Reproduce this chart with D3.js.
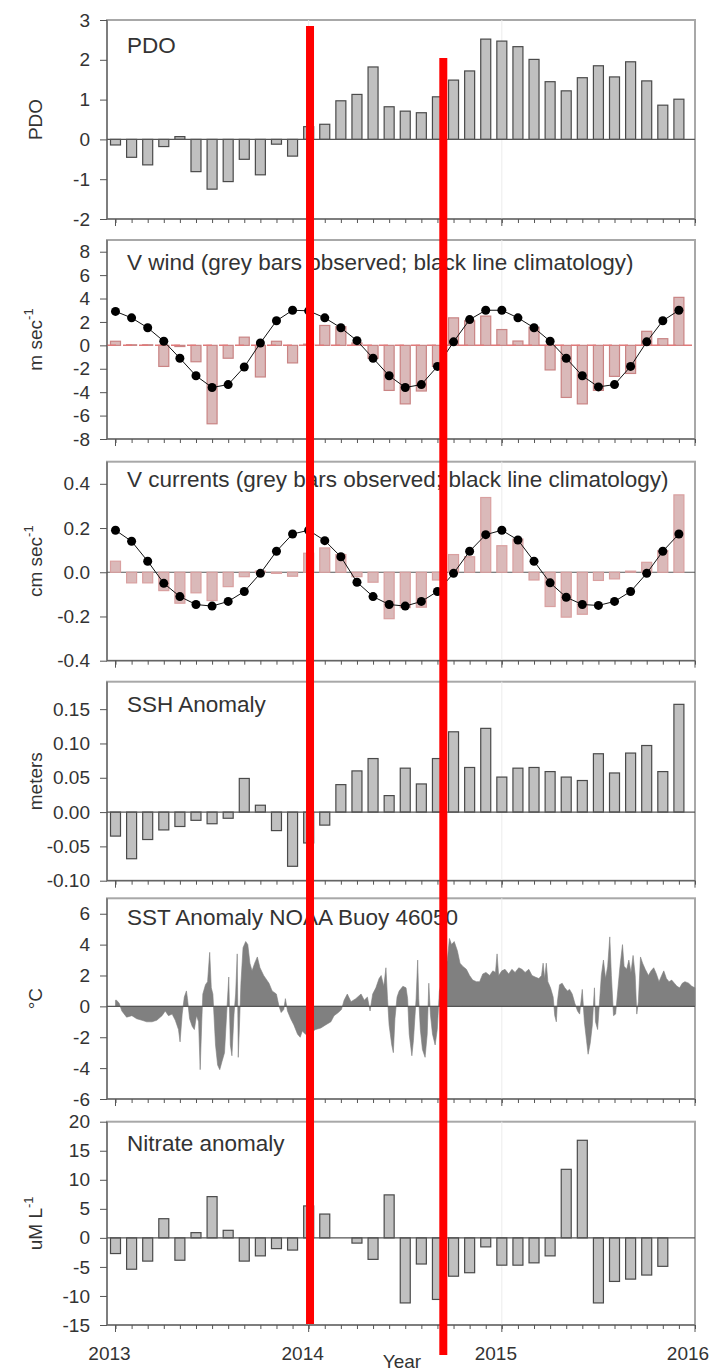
<!DOCTYPE html>
<html><head><meta charset="utf-8">
<script src="https://cdn.jsdelivr.net/npm/d3@7"></script>
<style>body{margin:0;background:#fff} text{font-family:"Liberation Sans",Arial,sans-serif}</style>
</head><body><svg id="c" width="714" height="1372"></svg>
<script>
// ---------------- DATA ----------------
const months = ["2013-01","2013-02","2013-03","2013-04","2013-05","2013-06","2013-07","2013-08","2013-09","2013-10","2013-11","2013-12",
"2014-01","2014-02","2014-03","2014-04","2014-05","2014-06","2014-07","2014-08","2014-09","2014-10","2014-11","2014-12",
"2015-01","2015-02","2015-03","2015-04","2015-05","2015-06","2015-07","2015-08","2015-09","2015-10","2015-11","2015-12"];
const yearTicks = [2013, 2014, 2015, 2016];

const pdo = [-0.14,-0.45,-0.64,-0.18,0.07,-0.81,-1.25,-1.06,-0.50,-0.89,-0.12,-0.42,
 0.32,0.38,0.97,1.13,1.82,0.82,0.71,0.67,1.07,1.49,1.72,2.52,
 2.47,2.33,2.01,1.45,1.22,1.55,1.85,1.57,1.95,1.47,0.86,1.01];

const windObs = [0.35,0.05,0.05,-1.8,-0.1,-1.4,-6.7,-1.1,0.7,-2.7,0.35,-1.5,
 0.1,1.7,1.6,0.2,-1.1,-3.85,-5.0,-3.9,-1.8,2.35,2.1,2.5,
 1.35,0.37,1.55,-2.1,-4.45,-5.0,-3.85,-2.65,-2.4,1.2,0.57,4.1];
const windClim = [2.9,2.35,1.5,0.35,-1.1,-2.6,-3.6,-3.35,-1.85,0.2,2.1,3.0,
 2.95,2.35,1.5,0.4,-1.1,-2.6,-3.6,-3.35,-1.8,0.3,2.2,3.0,
 3.0,2.35,1.5,0.35,-1.1,-2.6,-3.55,-3.35,-1.8,0.3,2.1,3.0];

const curObs = [0.05,-0.048,-0.048,-0.083,-0.14,-0.093,-0.128,-0.065,-0.02,0.005,-0.005,-0.018,
 0.086,0.11,0.08,-0.02,-0.045,-0.21,-0.16,-0.158,-0.035,0.08,0.07,0.338,
 0.12,0.15,-0.035,-0.155,-0.203,-0.19,-0.037,-0.03,0.005,0.045,0.098,0.35];
const curClim = [0.19,0.14,0.05,-0.05,-0.11,-0.146,-0.153,-0.132,-0.087,-0.005,0.095,0.173,
 0.19,0.143,0.07,-0.045,-0.11,-0.146,-0.153,-0.132,-0.087,-0.005,0.095,0.17,
 0.19,0.146,0.05,-0.048,-0.113,-0.146,-0.15,-0.132,-0.087,-0.005,0.095,0.173];

const ssh = [-0.035,-0.068,-0.04,-0.026,-0.021,-0.012,-0.017,-0.009,0.049,0.01,-0.027,-0.079,
 -0.045,-0.019,0.04,0.06,0.078,0.024,0.064,0.041,0.078,0.117,0.065,0.122,
 0.051,0.064,0.065,0.059,0.051,0.046,0.085,0.057,0.086,0.097,0.059,0.157];

const nitrate = [-2.7,-5.4,-4.0,3.3,-3.85,0.9,7.1,1.3,-4.0,-3.1,-1.85,-2.1,
 5.5,4.1,null,-0.9,-3.7,7.4,-11.2,-4.5,-10.6,-6.6,-6.0,-1.55,
 -4.7,-4.7,-4.3,-3.1,11.8,16.8,-11.2,-7.5,-7.1,-6.4,-4.9,null];

// SST anomaly: day since 2013-01-01, value (deg C)
const sstDay = [0,2,7,12,21,31,40,50,59,69,78,88,94,100,107,113,119,122,126,130,134,136,140,145,149,153,157,160,163,165,170,174,178,181,184,189,193,197,201,206,210,214,217,220,224,227,230,232,235,237,241,246,250,254,258,263,268,273,280,290,296,304,309,313,318,321,325,331,337,344,349,353,359,369,378,388,397,407,413,421,427,432,438,
 445,454,464,470,476,481,486,492,498,502,507,511,514,517,522,525,528,532,536,543,549,552,555,560,563,568,571,573,576,580,585,589,592,595,599,604,608,612,616,622,627,631,635,640,646,651,656,663,669,675,682,688,694,700,707,713,718,721,724,730,736,743,749,755,762,768,774,781,787,793,800,805,808,811,814,817,822,827,830,833,835,839,844,849,854,858,863,868,873,877,882,886,890,893,897,901,905,907,911,915,918,922,926,930,934,937,941,945,949,953,958,961,966,970,974,978,982,985,988,992,996,1001,1007,1012,1017,1022,1027,1032,1036,1041,1046,1051,1056,1061,1066,1071,1076,1083,1089,1095];
const sstValue = [0.4,0.4,0.2,-0.3,-0.7,-0.6,-0.8,-0.9,-1.0,-1.0,-0.9,-0.6,-0.3,-0.6,-0.5,-0.9,-1.5,-2.3,-0.5,0.6,1.0,0.5,-0.8,-1.3,-1.5,-0.6,-1.0,-4.1,-1.0,0.8,1.4,1.6,3.5,1.2,0.8,-2.5,-3.8,-4.1,-3.6,-3.0,-0.5,1.9,-2.5,-3.2,-0.5,0.8,3.4,-3.3,-0.5,1.5,3.8,4.2,4.0,2.8,2.3,2.8,3.2,2.5,2.0,1.5,1.0,0.8,0.0,-0.4,-0.2,0.5,-0.3,-0.8,-1.2,-1.8,-2.0,-1.6,-1.8,-1.7,-1.5,-1.4,-1.2,-1.0,-0.6,-0.4,-0.2,0.4,0.8,
 0.3,0.5,0.8,0.4,0.6,-0.3,0.8,1.2,1.8,2.0,1.3,2.5,0.5,-1.2,-2.5,-3.0,-0.8,0.6,1.0,1.3,1.2,0.5,-1.8,-3.2,-2.2,0.5,3.0,0.5,-1.5,-2.8,-3.3,-1.8,1.5,-0.5,-1.8,-2.5,-1.5,1.0,1.5,2.0,3.0,4.4,4.0,4.2,3.6,2.8,2.6,2.4,2.0,1.7,1.6,1.6,2.1,2.2,2.0,2.3,2.2,3.4,2.0,2.3,2.4,2.1,2.4,2.2,2.5,2.4,2.2,2.4,2.0,1.9,1.8,2.0,2.8,1.8,2.8,1.6,1.2,0.6,-0.6,-1.0,0.3,1.4,1.5,1.2,1.0,1.1,0.8,0.2,-0.3,-0.5,1.1,-1.0,-2.2,-3.1,-2.4,-1.2,1.2,-1.0,-1.5,0.5,2.0,3.0,1.8,2.6,4.5,2.0,-0.6,-0.5,1.0,2.5,4.0,2.6,2.4,3.0,2.2,3.3,2.0,-0.5,0.3,3.2,2.8,2.4,2.0,2.3,2.5,2.1,1.6,2.0,2.3,1.8,1.6,1.7,1.5,1.3,1.2,1.5,1.6,1.5,1.3,1.2];

// annotation marks (red vertical lines), in decimal years
const redLines = [2014.007, 2014.697];

// ---------------- LAYOUT ----------------
const svg = d3.select("#c");
const x = d3.scaleLinear().domain([2012.956, 2016.0]).range([107, 695]);
const mPos = months.map(m => { const [yy, mm] = m.split("-").map(Number); return yy + (mm - 1) / 12; });
const barW = 10;
const hy = f => (v => f(v).replace("\u2212", "-"));

const panels = [
 {top:20, bottom:219, dom:[-2,3], ticks:[-2,-1,0,1,2,3], fmt:hy(d3.format("d")), title:"PDO", tdy:32.7, label:"PDO", sup:null},
 {top:240, bottom:439, dom:[-8,9], ticks:[-8,-6,-4,-2,0,2,4,6,8], fmt:hy(d3.format("d")), title:"V wind (grey bars observed; black line climatology)", tdy:30, label:"m sec", sup:"-1"},
 {top:461.7, bottom:660.7, dom:[-0.4,0.5], ticks:[-0.4,-0.2,0,0.2,0.4], fmt:hy(d3.format(".1f")), title:"V currents (grey bars observed; black line climatology)", tdy:25, label:"cm sec", sup:"-1"},
 {top:681.7, bottom:880.7, dom:[-0.1,0.19], ticks:[-0.1,-0.05,0,0.05,0.1,0.15], fmt:hy(d3.format(".2f")), title:"SSH Anomaly", tdy:30.5, label:"meters", sup:null},
 {top:898.3, bottom:1099, dom:[-6,7], ticks:[-6,-4,-2,0,2,4,6], fmt:hy(d3.format("d")), title:"SST Anomaly NOAA Buoy 46050", tdy:26.7, label:"°C", sup:null},
 {top:1121.7, bottom:1325, dom:[-15,20], ticks:[-15,-10,-5,0,5,10,15,20], fmt:hy(d3.format("d")), title:"Nitrate anomaly", tdy:29, label:"uM L", sup:"-1"}
];

panels.forEach((p, i) => {
  const y = d3.scaleLinear().domain(p.dom).range([p.bottom, p.top]);
  p.y = y;
  const g = svg.append("g");
  g.append("rect").attr("x", 107).attr("y", p.top).attr("width", 588).attr("height", p.bottom - p.top)
    .attr("fill", "none").attr("stroke", "#a8a8a8").attr("stroke-width", 2);
  g.selectAll(".grid").data(yearTicks.slice(1, 3)).enter().append("line")
    .attr("x1", d => x(d)).attr("x2", d => x(d)).attr("y1", p.top).attr("y2", p.bottom)
    .attr("stroke", "#ececec").attr("stroke-width", 1);
  p.g = g;
});

function bars(p, vals, fill, stroke) {
  const y = p.y;
  p.g.selectAll(null).data(vals.map((v, i) => ({v, t: mPos[i]})).filter(d => d.v !== null))
    .enter().append("rect")
    .attr("x", d => x(d.t) - barW / 2).attr("width", barW)
    .attr("y", d => Math.min(y(d.v), y(0))).attr("height", d => Math.abs(y(d.v) - y(0)))
    .attr("fill", fill).attr("stroke", stroke).attr("stroke-width", 1.2);
}
function zero(p, color, dash) {
  p.g.append("line").attr("x1", 107).attr("x2", 695).attr("y1", p.y(0)).attr("y2", p.y(0))
    .attr("stroke", color).attr("stroke-width", dash ? 1.5 : 1.2).attr("stroke-dasharray", dash || null);
}
function clim(p, vals) {
  const line = d3.line().x((d, i) => x(mPos[i])).y(d => p.y(d));
  p.g.append("path").attr("d", line(vals)).attr("fill", "none").attr("stroke", "#111").attr("stroke-width", 1);
  p.g.selectAll(null).data(vals).enter().append("circle")
    .attr("cx", (d, i) => x(mPos[i])).attr("cy", d => p.y(d)).attr("r", 4.5).attr("fill", "#000");
}

bars(panels[0], pdo, "#c0c0c0", "#4a4a4a"); zero(panels[0], "#555");
bars(panels[1], windObs, "#dab9b9", "#c98484"); zero(panels[1], "#e07a7a", "9,7"); clim(panels[1], windClim);
zero(panels[2], "#555"); bars(panels[2], curObs, "#dab9b9", "#d9a0a0"); clim(panels[2], curClim);
bars(panels[3], ssh, "#c0c0c0", "#4a4a4a"); zero(panels[3], "#555");
{
  const p = panels[4];
  const pts = sstDay.map((d, i) => ({t: 2013 + d / 365, v: sstValue[i]}));
  const area = d3.area().x(d => x(d.t)).y0(p.y(0)).y1(d => p.y(d.v));
  p.g.append("path").attr("d", area(pts)).attr("fill", "#808080").attr("stroke", "#808080").attr("stroke-width", 0.6);
  zero(p, "#555");
}
bars(panels[5], nitrate, "#c0c0c0", "#4a4a4a"); zero(panels[5], "#555");

panels.forEach((p, i) => {
  const g = p.g;
  const ya = g.append("g").attr("transform", "translate(107,0)")
    .call(d3.axisLeft(p.y).tickValues(p.ticks).tickSize(7).tickPadding(10).tickFormat(p.fmt));
  ya.select(".domain").attr("stroke", "#555").attr("d", `M0,${p.top}V${p.bottom}`);
  ya.selectAll(".tick line").attr("stroke", "#555");
  ya.selectAll("text").attr("font-size", 19).attr("fill", "#333").attr("font-family", '"Liberation Sans",Arial,sans-serif');

  const xa = g.append("g").attr("transform", `translate(0,${p.bottom})`)
    .call(d3.axisBottom(x).tickValues(mPos.concat([2016])).tickSize(4).tickFormat(""));
  xa.select(".domain").attr("stroke", "#555").attr("d", `M107,0H695`);
  xa.selectAll(".tick line").attr("stroke", "#555");
  g.selectAll(null).data(yearTicks).enter().append("line")
    .attr("x1", d => x(d)).attr("x2", d => x(d)).attr("y1", p.bottom).attr("y2", p.bottom + 7)
    .attr("stroke", "#555");

  g.append("text").attr("x", 127).attr("y", p.top + p.tdy).attr("font-size", 22.5).attr("fill", "#333").text(p.title);

  const cy = (p.top + p.bottom) / 2;
  const t = g.append("text").attr("transform", `translate(42,${cy}) rotate(-90)`)
    .attr("text-anchor", "middle").attr("font-size", 19).attr("fill", "#333");
  t.append("tspan").text(p.label);
  if (p.sup) t.append("tspan").attr("dy", -9).attr("font-size", 13).text(p.sup);
});

const last = panels[5];
svg.selectAll(null).data(yearTicks).enter().append("text")
  .attr("x", d => Math.min(x(d) - 6, 688)).attr("y", last.bottom + 35)
  .attr("text-anchor", "middle").attr("font-size", 19).attr("fill", "#333").text(d => d);
svg.append("text").attr("x", 402).attr("y", 1368).attr("text-anchor", "middle")
  .attr("font-size", 19).attr("fill", "#333").text("Year");

svg.append("line").attr("x1", x(redLines[0])).attr("x2", x(redLines[0])).attr("y1", 26).attr("y2", 1324)
  .attr("stroke", "#ff0000").attr("stroke-width", 8);
svg.append("line").attr("x1", x(redLines[1])).attr("x2", x(redLines[1])).attr("y1", 58).attr("y2", 1355)
  .attr("stroke", "#ff0000").attr("stroke-width", 8);
</script></body></html>
